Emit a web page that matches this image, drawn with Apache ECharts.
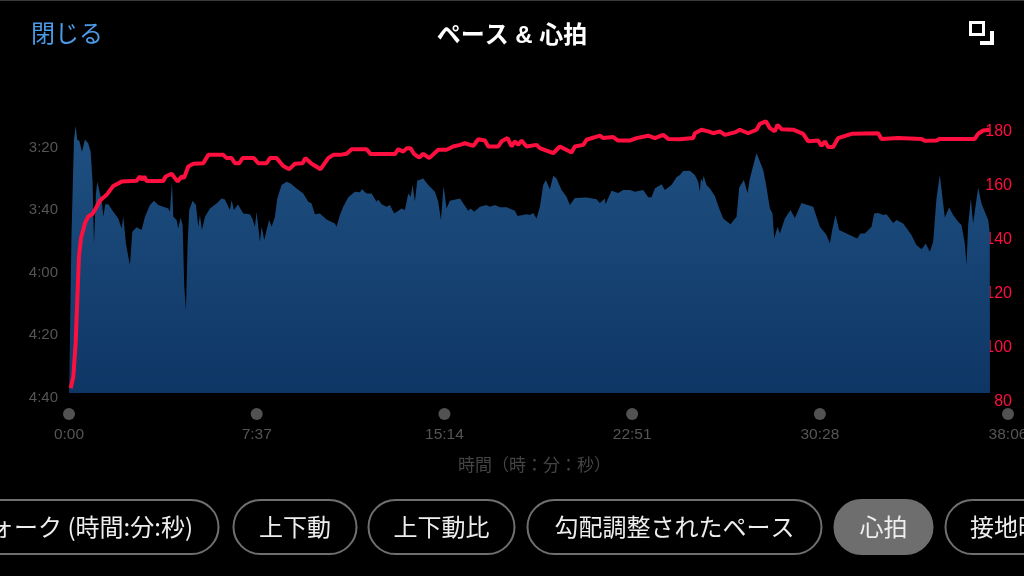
<!DOCTYPE html>
<html lang="ja">
<head>
  <meta charset="UTF-8">
  <title>ペース & 心拍</title>
  <script src="https://cdn.jsdelivr.net/npm/echarts@6/dist/echarts.min.js"></script>
  <style>
    html, body { margin: 0; padding: 0; background: #000; }
  </style>
</head>
<body>
  <div id="main" style="width:1024px;height:576px;"></div>
  <script type="text/javascript">
    // ペース: 経過秒, 1kmあたりの秒数
    var paceTime = [0,1,5.6,6,9.7,12.1,16.2,20.2,25.1,31.6,38.9,47,52.7,57.5,60.8,65.7,68.9,75.4,79.4,83.5,88.4,95.7,107.8,120,128.1,132.2,138.7,144.4,148.4,154.1,164.6,176.8,184.9,197.1,206.8,217.4,229.5,241.7,245.8,250.6,253.9,262,266,271.7,276.6,280.6,284.7,288.8,292.8,300.9,309,314.7,318.8,323.6,331,343.1,359.3,371.5,379.6,391.8,395.9,401.5,411.3,424.2,440.5,446.2,452.7,456.7,464.8,468.9,475.4,481,487.5,493.2,501.3,507,517.6,529.7,539.5,554.1,570.3,582.5,590.6,598.7,610.8,627,647.4,651.4,659.6,667.7,679.9,696.1,708.3,713.1,724.5,736.7,748.8,752.9,761,773.2,781.3,791.8,809.7,817.8,825.9,831.6,836.5,842.1,847.8,862.4,874.6,890.8,898.9,905.4,911.9,919.2,927.3,951.7,972,977.6,986.6,1000.3,1016.6,1024.7,1036.9,1049,1065.3,1085.5,1092,1113.9,1122,1130.2,1138.3,1146.4,1154.5,1161,1170.7,1178.8,1186.9,1199.1,1211.3,1219.4,1231.6,1260,1264,1284.3,1292.4,1304.6,1306.2,1320.8,1337,1349.2,1365.4,1377.6,1397.9,1410,1418.2,1426.3,1442.5,1450.6,1466.8,1479,1487.2,1495.3,1511.5,1523.7,1531.8,1535.9,1538.3,1542.4,1544.8,1552.1,1560.2,1572.4,1582.9,1592.7,1610.5,1625.1,1631.6,1643,1651.9,1657.6,1673.8,1690,1696.5,1706.3,1712.7,1716.8,1724.9,1730.6,1742.8,1756.5,1767.1,1783.3,1811.7,1828,1844.2,1852.3,1858.8,1866.1,1875,1892.9,1918.8,1926.9,1937.5,1953.7,1960.2,1969.9,1982.1,1990.2,2006.4,2014.5,2030.8,2051,2063.2,2075.4,2085.9,2095.7,2103.8,2111.9,2120,2132.2,2142.7,2152.5,2164.6,2172.8,2180.9,2184.9,2189,2195.5,2201.1,2213.3,2221.4,2237.7,2241.7,2242];
    var paceValues = [279,273.3,272.8,229,209.8,198.1,193.6,198.1,198.3,201.8,197.9,199.2,201.8,212,231.2,215.2,211.4,215.2,217.3,222.6,218.6,218.6,221,223.2,226.4,222.6,231.2,235.4,238.1,227.4,226,226.9,222.6,218.9,217.5,218.9,219.4,220,221,211.4,222.6,223.7,226.4,222.9,225.3,245,252.5,231.2,220.5,217.5,218.9,225.8,222.1,226.9,222.6,220,218.4,216.8,217.1,220.5,217.3,220.5,218.7,221.6,221.8,223.2,225.8,221,230.6,225.8,230.1,226.9,223.7,225.8,222.6,216.8,212.5,211.4,212,213.6,215.2,217.8,218.4,221.8,221.6,223.5,224.8,225.8,222.1,219.4,216.4,214.6,214.8,213.8,215.2,215.2,217.8,217.1,218.6,219.4,218.9,221.6,220,220.5,215.2,216.2,212.5,217.8,211.1,210.4,212.5,214.6,217.8,223.7,212.8,220,217.5,216.8,220.7,220,221,219.4,218.9,219.4,218.9,219.6,219.6,220.7,222.4,221.8,222.1,221.4,223.2,219.4,212.5,210.9,213.9,209.5,210.4,214.1,216.2,218.9,216.6,216.5,216,217,218.2,216.8,218.6,214.3,215,214.1,214.1,214.6,214.1,216.4,216.4,213.6,212.2,214.1,212.5,210,209.3,208,207.9,209.3,211.4,214.6,210.4,211.4,209.5,212.5,213.6,216,220,223.2,225,222.6,213.3,210.9,215,210.4,202.2,207.7,212,220,221.6,229.6,225.8,228,223.2,220.5,223,218.2,219.4,225.8,228.5,231.2,226.4,222.1,226.9,228,229.6,228,228,225.8,221.6,221.4,222.1,221.8,224.6,223.7,224.8,228.5,231.7,233,231.2,233.8,230.6,216.8,209.3,222.9,219.7,222.1,224.2,225.3,231.2,238.1,225.3,216.8,224.8,213.3,218.4,223.7,228,279];

    // 心拍: 経過秒, bpm
    var hrTime = [4,10.5,16.2,20.2,24.3,29.1,38.9,47,57.5,65.7,75.4,91.6,107.8,128.1,164.6,172.7,178.4,183.3,189,229.5,235.2,249.8,264.4,274.2,279.8,290.4,302.6,326.9,339.1,375.6,383.7,395.9,404,414.5,422.6,450.2,460.8,481,489.2,505.4,521.6,536.2,550,568.7,575.2,590.6,612.5,631.1,643.3,659.6,675.8,688,724.5,734.2,793.5,801.6,813.7,821.9,831.6,839.7,852.7,862.4,877,898.9,903,919.2,935.4,951.7,963.8,984.1,996.3,1012.5,1020.6,1045,1053.1,1067.7,1077.4,1085.5,1093.6,1101.8,1113.9,1138.3,1146.4,1178.8,1195.1,1223.4,1231.6,1251.9,1260,1292.4,1300.5,1324.9,1337,1365.4,1381.6,1410,1426.3,1446.6,1458.7,1487.2,1519.6,1523.7,1539.9,1556.2,1568.3,1584.6,1596.7,1621.1,1633.2,1653.5,1673.8,1681.9,1696.5,1706.3,1718.4,1724.9,1734.6,1763,1787.4,1799.5,1823.9,1832,1840.1,1848.2,1860.4,1872.6,1905,1970,1978,2018.6,2075.4,2083.5,2112,2120,2205,2213.3,2225.5,2241.7];
    var hrValues = [84.7,89,101.4,117.4,133.5,140.2,145.8,148.3,149.3,151.4,154.2,156.3,159.6,161.2,161.5,163.1,161.9,163.1,161.4,161.4,163.1,164.1,161.2,163.1,162.5,166.8,167.8,168,171.1,171.1,169.9,169.9,168,168,169.9,169.9,168,168,169.9,169.9,167,165.8,167.8,168,169.9,167.8,165.8,169.9,171.1,171.1,171.5,173.2,173.2,171.4,171.4,173.2,172.3,173.5,173.5,171.5,170.1,171.5,169.9,173,172.3,173,174.2,174.8,175.4,174.4,176.9,176.4,174.2,174.2,176.1,177.3,174.2,176.1,174.8,176.4,174.2,174.8,173.6,171.7,174.2,172,174.2,174.8,176.7,178.2,177.3,177.7,176.4,176.4,177.3,178.2,177.3,178.5,177,176.9,177.3,179.1,180.4,179.8,179.1,179.8,178.5,179.4,180.4,179.1,180.4,182.6,183.5,181,179.8,182.2,180.6,180.4,178.9,176.1,176.4,174.4,176.1,174,174,177.3,178.9,179.1,177,177.3,177,176.3,176.4,177,177,178.9,180.1,180.4];

    var timeTicks = [0,457,914,1371,1828,2286];
    var timeLabels = ['0:00','7:37','15:14','22:51','30:28','38:06'];
    var paceTicks = [200,220,240,260,280];
    var paceLabels = ['3:20','3:40','4:00','4:20','4:40'];
    var hrTicks = [80,100,120,140,160,180];

    var fontName = '"Liberation Sans", "Noto Sans CJK JP", sans-serif';
    var jpFont = '"Noto Sans CJK JP", sans-serif';

    function zip(a, b) {
      var out = [];
      for (var i = 0; i < a.length; i++) {
        out.push([a[i], b[i]]);
      }
      return out;
    }

    // 下のボタン
    var pills = [
      { x: -60, w: 279, text: 'ウォーク (時間:分:秒)', tx: 193, align: 'right' },
      { x: 233, w: 124, text: '上下動' },
      { x: 368, w: 147, text: '上下動比' },
      { x: 527, w: 295, text: '勾配調整されたペース' },
      { x: 834, w: 99, text: '心拍', on: true },
      { x: 945, w: 140, text: '接地時間', tx: 970, align: 'left' }
    ];

    var graphics = [
      { type: 'rect', shape: { x: 0, y: 0, width: 1024, height: 1 }, style: { fill: '#3a3a3a' } },
      { type: 'text', x: 31, y: 33, style: { text: '閉じる', fill: '#4a9be8', font: '24px ' + jpFont, textVerticalAlign: 'middle' } },
      { type: 'rect', shape: { x: 970.5, y: 22.5, width: 13, height: 12 }, style: { fill: 'none', stroke: '#fff', lineWidth: 3 } },
      { type: 'rect', shape: { x: 990, y: 31, width: 4, height: 14 }, style: { fill: '#fff' } },
      { type: 'rect', shape: { x: 980, y: 41, width: 14, height: 4 }, style: { fill: '#fff' } }
    ];
    for (var i = 0; i < pills.length; i++) {
      var p = pills[i];
      graphics.push({
        type: 'rect',
        shape: { x: p.x + 0.5, y: 500, width: p.w - 1, height: 54, r: 27 },
        style: { fill: p.on ? '#6e6e6e' : 'none', stroke: p.on ? '#6e6e6e' : '#6f6f6f', lineWidth: 2 }
      });
      graphics.push({
        type: 'text',
        x: p.tx !== undefined ? p.tx : p.x + p.w / 2,
        y: 527,
        style: { text: p.text, fill: '#eee', font: '24px ' + jpFont, textAlign: p.align || 'center', textVerticalAlign: 'middle' }
      });
    }

    var myChart = echarts.init(document.getElementById('main'));

    var option = {
      backgroundColor: '#000',
      animation: false,
      title: {
        text: 'ペース & 心拍',
        left: 507,
        top: 19,
        textAlign: 'center',
        textStyle: { color: '#fff', fontSize: 24, fontWeight: 'bold', fontFamily: fontName }
      },
      graphic: graphics,
      grid: [
        { left: 69, right: 16, top: 120, bottom: 175, outerBoundsMode: 'none' },
        { left: 69, right: 16, top: 405, height: 18, outerBoundsMode: 'none' }
      ],
      xAxis: [
        { type: 'value', gridIndex: 0, min: 0, max: 2286, show: false },
        {
          type: 'value',
          gridIndex: 1,
          min: 0,
          max: 2286,
          name: '時間（時：分：秒）',
          nameLocation: 'middle',
          nameGap: 33,
          nameTextStyle: { color: '#444', fontSize: 17, fontFamily: jpFont, padding: [0, 8, 0, 0] },
          axisLine: { show: false },
          axisTick: { show: false },
          splitLine: { show: false },
          axisLabel: {
            color: '#555',
            fontSize: 15.5,
            fontFamily: fontName,
            margin: 4,
            hideOverlap: false,
            showMinLabel: true,
            showMaxLabel: true,
            customValues: timeTicks,
            formatter: function (v) { return timeLabels[timeTicks.indexOf(v)]; }
          }
        }
      ],
      yAxis: [
        {
          type: 'value',
          gridIndex: 0,
          inverse: true,
          min: 191.68,
          max: 281.6,
          axisLine: { show: false },
          axisTick: { show: false },
          splitLine: { show: false },
          axisLabel: {
            color: '#555',
            fontSize: 15,
            fontFamily: fontName,
            margin: 11,
            verticalAlign: 'top',
            lineHeight: 3,
            customValues: paceTicks,
            formatter: function (v) { return paceLabels[paceTicks.indexOf(v)]; }
          }
        },
        {
          type: 'value',
          gridIndex: 0,
          position: 'right',
          min: 80,
          max: 184,
          axisLine: { show: false },
          axisTick: { show: false },
          splitLine: { show: false },
          axisLabel: {
            color: '#ff0f3f',
            fontSize: 16,
            fontFamily: fontName,
            margin: 4,
            align: 'right',
            verticalAlign: 'top',
            lineHeight: 2,
            customValues: hrTicks
          }
        },
        { type: 'value', gridIndex: 1, min: 0, max: 2, show: false }
      ],
      series: [
        {
          name: 'ペース',
          type: 'line',
          xAxisIndex: 0,
          yAxisIndex: 0,
          data: zip(paceTime, paceValues),
          showSymbol: false,
          lineStyle: { width: 0 },
          areaStyle: {
            origin: 279,
            opacity: 1,
            color: new echarts.graphic.LinearGradient(0, 0, 0, 1, [
              { offset: 0, color: '#1f5182' },
              { offset: 1, color: '#0e3665' }
            ])
          }
        },
        {
          name: '心拍',
          type: 'line',
          xAxisIndex: 0,
          yAxisIndex: 1,
          data: zip(hrTime, hrValues),
          showSymbol: false,
          clip: false,
          lineStyle: { color: '#ff0f3f', width: 4 },
          z: 3
        },
        {
          name: '目盛',
          type: 'scatter',
          xAxisIndex: 1,
          yAxisIndex: 2,
          data: timeTicks.map(function (t) { return [t, 1]; }),
          symbolSize: 12,
          clip: false,
          itemStyle: { color: '#666' }
        }
      ]
    };

    myChart.setOption(option);
  </script>
</body>
</html>
